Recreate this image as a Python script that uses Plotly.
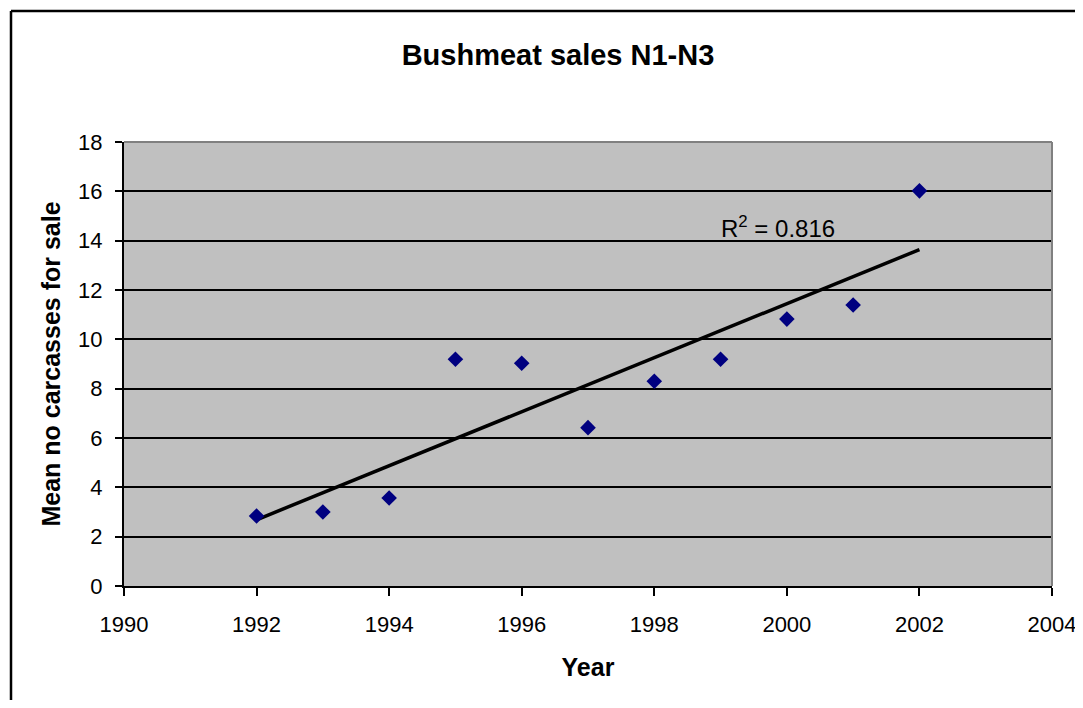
import numpy as np
import plotly.graph_objects as go

years = [1992, 1993, 1994, 1995, 1996, 1997, 1998, 1999, 2000, 2001, 2002]
carcasses = [2.84, 3.0, 3.57, 9.19, 9.03, 6.42, 8.30, 9.19, 10.82, 11.39, 16.02]
x_ticks = [1990, 1992, 1994, 1996, 1998, 2000, 2002, 2004]
y_ticks = [0, 2, 4, 6, 8, 10, 12, 14, 16, 18]
title_text = "Bushmeat sales N1-N3"
x_title = "Year"
y_title = "Mean no carcasses for sale"
r2_text = "R<sup>2</sup> = 0.816"

slope, intercept = np.polyfit(years, carcasses, 1)
trend_x = [years[0], years[-1]]
trend_y = [slope * v + intercept for v in trend_x]

FONT = "Liberation Sans, Arial, sans-serif"
W, H = 1075, 692  # page body has an 8px margin on every side

fig = go.Figure()
fig.add_trace(go.Scatter(x=trend_x, y=trend_y, mode="lines",
                         line=dict(color="black", width=3.5), showlegend=False,
                         hoverinfo="skip"))
fig.add_trace(go.Scatter(x=years, y=carcasses, mode="markers",
                         marker=dict(symbol="diamond", size=12, color="#000080",
                                     line=dict(width=0)),
                         showlegend=False))

fig.update_layout(
    width=W, height=H,
    margin=dict(l=116, r=31, t=134, b=114, autoexpand=False),
    paper_bgcolor="white",
    plot_bgcolor="#C0C0C0",
    font=dict(family=FONT, size=22, color="black"),
    xaxis=dict(range=[1990, 2004], tickvals=x_ticks, showgrid=False, zeroline=False,
               showline=True, linecolor="black", linewidth=2, ticks="outside",
               ticklen=8, tickwidth=1.5, tickcolor="black", mirror=False,
               ticklabelstandoff=10, automargin=False,
               tickfont=dict(size=22, family=FONT),
               title=dict(text="<b>" + x_title + "</b>", font=dict(size=25, family=FONT), standoff=22)),
    yaxis=dict(range=[0, 18], tickvals=y_ticks, showgrid=True, gridcolor="black", gridwidth=1.5,
               zeroline=False, showline=True, linecolor="black", linewidth=2,
               ticks="outside", ticklen=7, tickwidth=1.5, tickcolor="black",
               ticklabelstandoff=8, automargin=False,
               tickfont=dict(size=22, family=FONT),
               title=dict(text="<b>" + y_title + "</b>", font=dict(size=25, family=FONT), standoff=10)),
    title=dict(text="<b>" + title_text + "</b>", x=550 / W, xanchor="center",
               y=1 - 47 / H, yanchor="middle", font=dict(size=29, family=FONT)),
    annotations=[dict(x=1998.97, y=14.55, xref="x", yref="y", text=r2_text,
                      showarrow=False, xanchor="left", yanchor="middle",
                      font=dict(size=24, family=FONT))],
    shapes=[
        # plot area top/right grey border
        dict(type="line", xref="paper", yref="paper", x0=0, x1=1, y0=1, y1=1,
             line=dict(color="#808080", width=2)),
        dict(type="line", xref="paper", yref="paper", x0=1, x1=1, y0=0, y1=1,
             line=dict(color="#808080", width=2)),
        # outer chart border (left and top)
        dict(type="line", xref="paper", yref="paper", x0=(11 - 124) / 928, x1=(11 - 124) / 928,
             y0=(586 - 712) / 444, y1=(586 - 11) / 444, line=dict(color="black", width=2.5)),
        dict(type="line", xref="paper", yref="paper", x0=(11 - 124) / 928, x1=(1090 - 124) / 928,
             y0=(586 - 11) / 444, y1=(586 - 11) / 444, line=dict(color="black", width=2.5)),
    ],
)

fig.write_html("out.html")
